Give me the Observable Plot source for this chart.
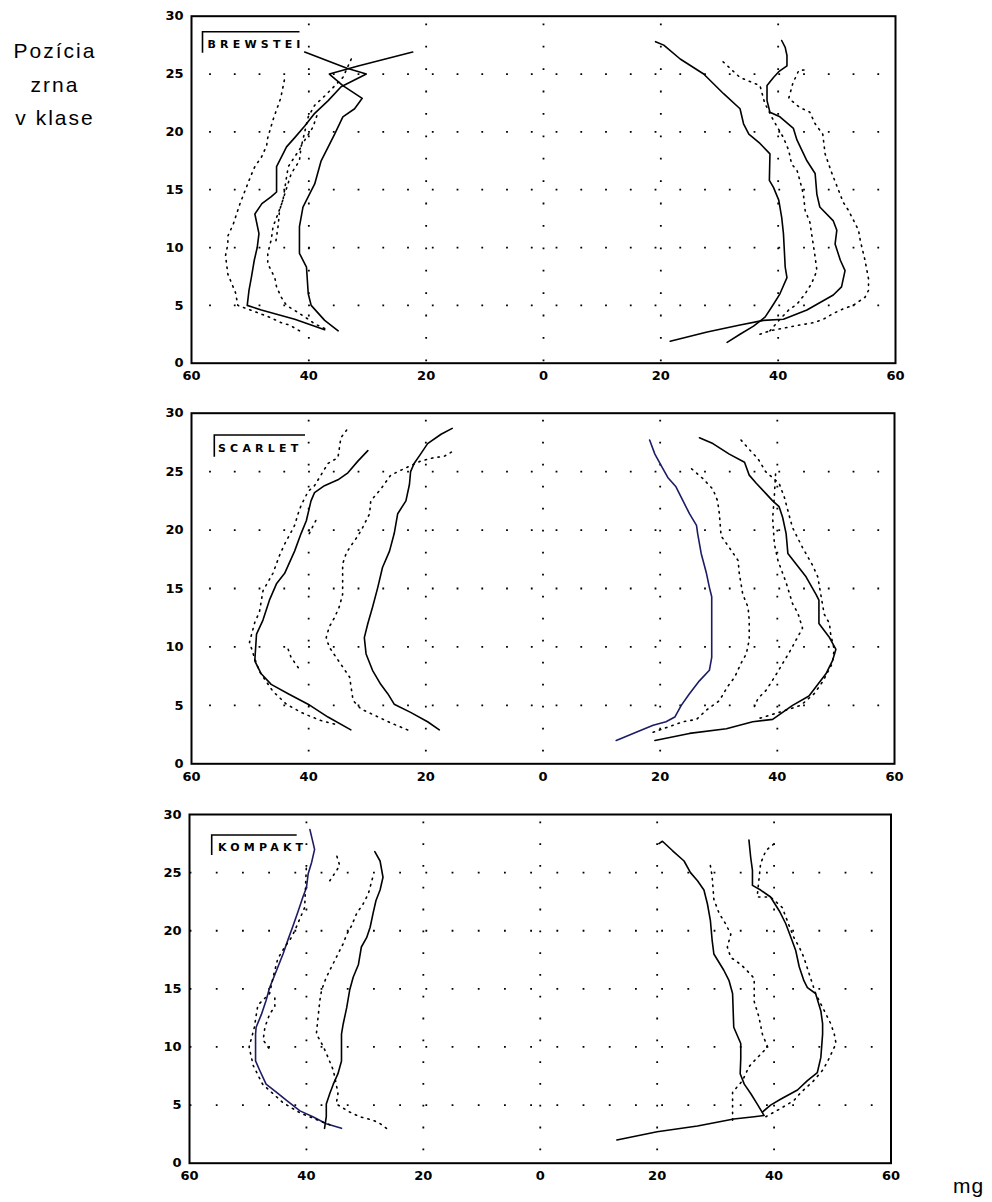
<!DOCTYPE html>
<html><head><meta charset="utf-8">
<script src="https://cdn.jsdelivr.net/npm/d3@7"></script>
<script src="https://cdn.jsdelivr.net/npm/@observablehq/plot@0.6"></script>
<style>
body{margin:0;background:#fff;}
#wrap{position:relative;width:992px;height:1202px;background:#fff;overflow:hidden;}
.panel{position:absolute;left:0;}
.panel text{font-family:'DejaVu Sans',sans-serif;font-size:13px;font-weight:bold;}
#overlay{position:absolute;left:0;top:0;pointer-events:none;}
</style></head>
<body><div id="wrap"></div>
<script>
// ---------- tick labels / categories ----------
const xTicks = [-60, -40, -20, 0, 20, 40, 60];
const yTicks = [0, 5, 10, 15, 20, 25, 30];
const gridX = [-40, -20, 0, 20, 40];
const gridY = [5, 10, 15, 20, 25];
const varieties = ["BREWSTEI", "SCARLET", "KOMPAKT"];
const titleLines = ["Pozícia", "zrna", "v klase"];
const unitLabel = "mg";

// ---------- BREWSTER ----------
const brewsterLeftSolidOuter = [[-37.3,2.9],[-42.4,3.8],[-48.1,4.6],[-50.5,5.0],[-50.2,6.3],[-49.8,7.4],[-49.3,8.9],[-48.8,10.0],[-48.5,11.2],[-49.2,12.9],[-48.0,13.8],[-46.4,14.4],[-45.5,14.8],[-45.5,17.0],[-43.8,18.7],[-42.4,19.5],[-40.7,20.5],[-39.0,21.6],[-36.7,22.7],[-34.5,23.9],[-30.2,25.0],[-33.5,25.5],[-40.7,26.9]];
const brewsterLeftSolidInner = [[-35.0,2.8],[-37.3,3.7],[-39.6,5.0],[-40.1,6.0],[-40.4,8.3],[-41.6,9.5],[-41.6,11.8],[-41.0,13.5],[-40.1,14.4],[-39.0,15.5],[-37.9,17.5],[-35.6,19.8],[-34.2,21.3],[-32.2,22.0],[-30.9,22.9],[-34.2,24.0],[-36.5,25.0],[-31.6,25.7],[-22.3,26.9]];
const brewsterLeftDotOuter = [[-41.6,2.8],[-43.3,3.3],[-44.7,3.5],[-46.8,4.0],[-52.1,5.0],[-52.5,6.1],[-53.8,7.7],[-54.2,9.3],[-53.8,10.3],[-53.8,11.0],[-52.9,12.0],[-51.8,13.7],[-50.5,15.4],[-49.8,16.3],[-49.2,17.0],[-48.1,17.8],[-47.2,18.8],[-47.0,19.5],[-46.0,21.2],[-44.8,22.9],[-44.4,23.9],[-44.0,24.9]];
const brewsterLeftDotInner = [[-37.3,3.0],[-39.0,3.4],[-40.1,3.8],[-41.9,4.4],[-43.8,5.0],[-44.7,5.7],[-45.5,6.6],[-45.8,7.4],[-47.0,8.6],[-47.0,9.5],[-46.4,10.7],[-46.1,11.8],[-45.2,13.0],[-44.4,14.1],[-43.8,16.1],[-43.5,17.0],[-41.3,18.7],[-40.1,21.3],[-39.0,22.3],[-37.3,23.1],[-34.2,24.7],[-32.5,26.6]];
const brewsterLeftDotMid = [[-45.6,10.6],[-45.2,12.0],[-45.0,13.2],[-43.0,16.4],[-41.6,17.5],[-41.3,18.8],[-39.3,20.4],[-38.5,21.6]];
const brewsterRightSolidInner = [[19.1,27.8],[20.5,27.5],[23.3,26.3],[27.3,25.0],[30.7,23.3],[33.5,22.0],[34.1,20.7],[35.0,19.8],[36.9,19.0],[38.6,18.1],[38.5,15.8],[39.2,15.2],[40.1,14.1],[40.6,12.6],[40.9,11.2],[41.2,8.3],[41.5,7.4],[40.3,6.0],[39.2,5.1],[37.8,4.0],[35.8,3.2],[33.5,2.5],[31.3,1.8]];
const brewsterRightSolidOuter = [[21.6,1.9],[27.9,2.7],[33.5,3.3],[37.5,3.7],[40.9,3.8],[44.9,4.6],[49.4,5.9],[50.8,6.6],[51.4,8.0],[50.6,8.9],[49.7,10.3],[50.0,11.5],[49.4,12.3],[47.1,13.5],[46.6,14.6],[46.3,16.4],[44.9,17.5],[43.2,19.3],[42.6,20.3],[40.3,21.3],[38.6,21.7],[38.1,22.7],[38.1,24.0],[39.2,24.7],[40.1,25.2],[41.5,25.7],[41.5,26.6],[41.2,27.3],[40.6,27.9]];
const brewsterRightDotInner = [[38.6,2.8],[40.3,3.8],[41.8,4.6],[43.2,5.1],[44.6,6.0],[45.7,6.9],[46.6,8.0],[46.3,9.2],[45.7,11.2],[45.4,12.2],[44.6,13.2],[44.3,14.6],[43.7,15.8],[43.2,16.7],[42.3,17.2],[41.8,18.4],[40.9,19.5],[39.2,21.0],[37.7,22.5],[36.9,24.0],[33.5,24.7],[30.1,26.3]];
const brewsterRightDotOuter = [[36.9,2.5],[38.6,2.8],[43.7,3.3],[46.0,3.5],[47.7,3.8],[49.4,4.3],[51.1,4.7],[52.8,5.0],[54.8,5.7],[55.4,6.3],[55.4,7.3],[54.8,8.9],[54.0,10.6],[53.7,11.5],[52.0,13.2],[51.1,13.9],[49.1,16.5],[48.0,18.1],[47.6,19.8],[46.3,20.7],[45.4,21.7],[43.7,22.1],[41.8,22.9],[42.5,24.2],[43.5,25.3],[45.2,25.4]];

// ---------- SCARLET ----------
const scarletLeftSolidOuter = [[-32.8,2.9],[-36.7,4.0],[-40.1,5.1],[-43.5,6.0],[-46.4,6.8],[-48.1,7.7],[-49.2,8.8],[-48.9,11.1],[-47.8,12.3],[-46.7,14.0],[-45.5,15.4],[-44.1,16.3],[-42.4,18.2],[-41.3,19.7],[-40.4,20.8],[-39.6,22.5],[-39.0,23.2],[-37.3,23.8],[-35.0,24.3],[-33.3,24.9],[-31.6,25.9],[-29.9,26.8]];
const scarletLeftSolidInner = [[-17.7,2.9],[-19.7,3.6],[-22.6,4.4],[-25.4,5.1],[-26.5,6.0],[-27.7,6.8],[-29.1,8.0],[-30.2,9.4],[-30.5,10.8],[-29.9,12.0],[-29.1,13.4],[-28.2,15.1],[-27.4,16.8],[-26.2,18.2],[-25.4,19.7],[-24.8,21.4],[-23.4,22.5],[-22.8,23.9],[-22.6,25.0],[-22.0,25.7],[-20.9,26.5],[-19.7,27.4],[-17.4,28.2],[-15.5,28.7]];
const scarletLeftDotInner = [[-23.1,2.9],[-26.0,3.5],[-29.4,4.3],[-31.1,4.7],[-32.2,5.3],[-32.5,5.7],[-32.8,6.7],[-33.0,7.4],[-34.2,8.3],[-35.3,9.1],[-36.5,10.0],[-37.0,10.8],[-36.5,11.7],[-35.6,12.5],[-34.8,13.4],[-34.2,14.5],[-34.2,16.3],[-34.2,17.1],[-33.6,18.0],[-33.0,18.5],[-31.6,19.5],[-30.8,20.2],[-29.6,21.4],[-29.4,22.5],[-27.7,23.5],[-26.0,24.7],[-23.5,25.3],[-20.9,25.9],[-18.6,26.2],[-16.9,26.3],[-15.2,26.8]];
const scarletLeftDotOuter = [[-35.6,3.4],[-37.9,3.7],[-39.9,4.1],[-41.3,4.4],[-43.8,5.1],[-46.1,6.2],[-48.4,7.9],[-49.2,9.0],[-50.1,10.4],[-49.2,12.1],[-48.4,13.0],[-47.8,14.8],[-46.1,16.3],[-45.0,17.8],[-44.1,18.8],[-42.4,20.4],[-41.8,21.4],[-41.3,22.1],[-40.1,23.3],[-39.0,23.8],[-36.7,25.7],[-35.0,26.2],[-34.5,27.9],[-33.3,28.7]];
const scarletLeftDotShortA = [[-43.5,9.8],[-43.0,9.1],[-41.6,8.1]];
const scarletLeftDotShortB = [[-39.9,19.7],[-38.4,21.2]];
const scarletRightNavy = [[12.5,2.0],[15.9,2.7],[18.8,3.3],[21.0,3.6],[22.5,4.0],[23.6,5.0],[25.0,6.0],[26.7,7.1],[28.4,8.0],[28.8,9.1],[28.8,11.1],[28.8,14.3],[28.4,15.1],[27.9,16.3],[27.0,18.0],[26.4,19.7],[26.2,20.4],[25.0,21.4],[23.9,22.5],[22.7,23.7],[21.3,24.5],[20.2,25.5],[19.1,26.5],[18.2,27.7]];
const scarletRightSolidOuter = [[19.1,2.0],[25.0,2.6],[31.3,3.0],[35.8,3.6],[39.2,3.8],[40.9,4.4],[42.6,5.0],[45.4,5.8],[46.6,6.6],[48.3,7.7],[49.4,8.8],[50.0,9.8],[48.9,10.8],[47.1,12.0],[47.1,14.0],[46.6,14.5],[44.9,16.0],[43.2,17.1],[41.8,18.0],[41.5,19.7],[40.9,21.1],[40.3,22.0],[39.2,22.5],[38.1,23.1],[36.4,24.0],[35.2,24.7],[34.4,25.8],[31.8,26.5],[29.0,27.4],[26.7,27.9]];
const scarletRightDotInner = [[18.8,2.7],[22.2,3.3],[23.9,3.6],[26.2,3.8],[27.9,4.6],[30.1,5.4],[31.5,6.6],[32.7,7.4],[33.8,8.6],[34.7,9.4],[35.2,10.6],[35.2,12.3],[35.0,13.4],[34.1,14.5],[33.5,16.3],[33.3,17.4],[31.8,18.5],[30.4,19.5],[30.1,21.4],[29.8,22.5],[29.0,23.5],[27.3,24.4],[25.0,25.4]];
const scarletRightDotOuter = [[33.8,27.7],[35.2,26.9],[36.7,26.1],[38.0,25.0],[40.3,24.0],[41.2,22.8],[42.1,21.1],[42.6,20.2],[44.3,18.5],[46.0,17.0],[46.9,16.0],[48.0,12.8],[48.9,12.0],[49.1,11.1],[49.7,9.8],[49.4,8.6],[47.7,7.0],[46.3,6.0],[44.0,5.0],[40.3,4.4],[37.0,3.9]];
const scarletRightDotMid = [[39.7,24.8],[39.5,23.0],[39.2,21.0],[39.5,18.8],[40.1,17.4],[41.5,15.5],[42.6,13.7],[43.5,12.9],[44.3,11.6],[42.0,9.5],[39.5,7.4],[38.1,6.3],[36.7,5.6],[36.1,4.9]];

// ---------- KOMPAKT ----------
const kompaktLeftNavy = [[-34.0,3.0],[-36.6,3.4],[-38.9,4.0],[-41.1,4.5],[-43.4,5.4],[-45.1,6.1],[-46.9,6.8],[-48.0,8.0],[-48.7,8.8],[-48.7,11.1],[-48.6,11.7],[-47.7,12.8],[-46.9,14.0],[-46.3,15.1],[-45.1,16.6],[-44.0,18.0],[-43.1,19.3],[-42.3,20.4],[-41.4,21.7],[-40.6,22.9],[-40.0,23.7],[-39.7,24.9],[-39.1,25.9],[-38.6,27.0],[-39.4,28.7]];
const kompaktLeftSolidInner = [[-36.9,3.0],[-36.6,4.0],[-36.6,5.1],[-36.0,6.0],[-35.4,6.8],[-34.6,7.7],[-34.0,8.8],[-34.0,11.1],[-33.7,12.0],[-33.1,13.4],[-32.6,14.9],[-32.0,16.0],[-31.1,17.1],[-30.6,18.6],[-29.7,19.4],[-29.1,20.3],[-28.6,21.5],[-28.1,22.6],[-27.4,23.5],[-26.9,24.6],[-27.4,26.0],[-28.3,26.8]];
const kompaktLeftDotInner = [[-26.3,3.0],[-27.4,3.4],[-28.6,3.7],[-30.9,4.0],[-32.6,4.4],[-34.9,5.1],[-34.6,6.0],[-34.9,6.8],[-35.4,8.0],[-36.3,9.1],[-36.9,9.8],[-37.7,10.6],[-38.3,11.1],[-38.0,12.6],[-37.7,14.0],[-37.4,14.9],[-36.6,16.0],[-35.7,16.9],[-34.9,17.7],[-34.3,18.3],[-33.7,18.9],[-33.1,19.7],[-32.3,20.4],[-31.4,21.5],[-30.3,22.3],[-29.4,23.2],[-28.6,24.7]];
const kompaktLeftDotOuter = [[-36.0,3.3],[-38.5,3.8],[-41.0,4.3],[-44.0,5.2],[-47.5,6.8],[-49.1,8.4],[-49.8,10.0],[-48.9,11.7],[-48.6,12.7],[-48.3,13.6],[-46.3,14.6],[-45.7,16.0],[-44.9,17.6],[-43.7,18.6],[-42.6,19.4],[-42.0,20.0],[-40.3,22.0],[-40.0,25.6]];
const kompaktLeftDotShortA = [[-45.4,14.2],[-45.4,13.5],[-46.3,12.8],[-46.6,12.4],[-47.1,11.7],[-47.4,10.6],[-46.3,9.8]];
const kompaktLeftDotShortB = [[-36.0,24.3],[-34.3,25.6],[-34.9,26.6]];
const kompaktRightSolidInner = [[13.1,2.0],[20.0,2.7],[26.9,3.2],[33.1,3.8],[36.6,4.0],[38.3,4.1],[37.1,5.1],[36.0,6.0],[34.9,6.8],[34.2,7.7],[34.3,9.0],[34.3,10.3],[33.1,11.7],[32.9,14.6],[32.3,15.7],[31.4,16.6],[29.7,18.0],[29.4,19.2],[29.1,20.9],[28.6,22.3],[28.0,23.5],[26.9,24.3],[25.7,25.0],[24.6,26.0],[22.6,26.9],[20.9,27.7],[20.3,27.5]];
const kompaktRightSolidOuter = [[38.0,4.4],[39.4,5.0],[41.1,5.5],[44.0,6.3],[45.7,7.1],[47.4,7.8],[48.0,9.1],[48.3,11.1],[48.3,12.0],[48.0,13.1],[47.1,14.6],[45.7,15.1],[45.1,15.7],[44.3,16.9],[43.7,18.3],[42.9,19.4],[42.0,20.6],[40.9,21.7],[39.4,22.9],[37.7,23.5],[36.3,23.9],[36.3,25.2],[36.0,26.3],[35.7,27.8]];
const kompaktRightDotInner = [[32.9,3.7],[32.9,5.0],[32.9,6.1],[34.6,7.1],[35.7,8.3],[36.6,8.8],[38.9,10.0],[38.0,11.1],[37.4,12.6],[36.6,13.9],[36.6,14.6],[36.6,15.9],[35.7,16.4],[34.3,17.1],[32.6,17.7],[32.0,18.6],[32.6,19.7],[31.7,20.6],[30.6,21.5],[29.7,22.7],[29.4,24.7],[29.1,25.6]];
const kompaktRightDotOuter = [[38.6,4.0],[41.1,4.7],[43.4,5.4],[44.6,6.1],[46.6,7.0],[48.3,8.0],[49.1,8.7],[50.6,10.3],[50.3,11.1],[49.7,12.0],[48.9,12.8],[47.1,14.6],[46.0,16.3],[45.1,17.7],[44.3,18.6],[43.4,19.4],[42.6,20.4],[41.4,22.0],[39.4,22.9],[37.1,22.9],[37.7,25.8],[38.6,26.9],[40.3,27.6]];

// ---------- styles ----------
const INK = "#000";
const NAVY = "#1c1c64";
const styleOf = {
  solid: {stroke: INK, strokeWidth: 1.6},
  navy: {stroke: NAVY, strokeWidth: 1.6},
  dot: {stroke: INK, strokeWidth: 1.6, strokeDasharray: "1.4,5.2"}
};

const panels = [
  {label: varieties[0], top: 0, height: 392, mt: 15.7, mb: 29.3, ml: 191, mr: 97, colGap: 22.4, colStart: 8.6, rowGap: 24.75, rowStart: 19,
   box: {x: 202.5, y: 31.7, w: 97, h: 21, tx: 207.5, ty: 48},
   series: [[brewsterLeftSolidOuter,"solid"],[brewsterLeftSolidInner,"solid"],[brewsterLeftDotOuter,"dot"],[brewsterLeftDotInner,"dot"],[brewsterLeftDotMid,"dot"],
            [brewsterRightSolidInner,"solid"],[brewsterRightSolidOuter,"solid"],[brewsterRightDotInner,"dot"],[brewsterRightDotOuter,"dot"]]},
  {label: varieties[1], top: 395, height: 397, mt: 17.7, mb: 28.7, ml: 191, mr: 98, colGap: 22, colStart: 8, rowGap: 24.75, rowStart: 19,
   box: {x: 214.3, y: 435, w: 90.7, h: 21.7, tx: 218, ty: 452},
   series: [[scarletLeftSolidOuter,"solid"],[scarletLeftSolidInner,"solid"],[scarletLeftDotInner,"dot"],[scarletLeftDotOuter,"dot"],[scarletLeftDotShortA,"dot"],[scarletLeftDotShortB,"dot"],
            [scarletRightNavy,"navy"],[scarletRightSolidOuter,"solid"],[scarletRightDotInner,"dot"],[scarletRightDotOuter,"dot"],[scarletRightDotMid,"dot"]]},
  {label: varieties[2], top: 795, height: 400, mt: 19, mb: 32.3, ml: 189, mr: 101.5, colGap: 21.8, colStart: 8.3, rowGap: 26.2, rowStart: 27.7,
   box: {x: 211.7, y: 835, w: 85, h: 20, tx: 218, ty: 851},
   series: [[kompaktLeftNavy,"navy"],[kompaktLeftSolidInner,"solid"],[kompaktLeftDotInner,"dot"],[kompaktLeftDotOuter,"dot"],[kompaktLeftDotShortA,"dot"],[kompaktLeftDotShortB,"dot"],
            [kompaktRightSolidInner,"solid"],[kompaktRightSolidOuter,"solid"],[kompaktRightDotInner,"dot"],[kompaktRightDotOuter,"dot"]]}
];

const wrap = document.getElementById("wrap");

for (const p of panels) {
  const chart = Plot.plot({
    width: 992, height: p.height,
    marginTop: p.mt, marginBottom: p.mb, marginLeft: p.ml, marginRight: p.mr,
    style: {fontFamily: "'DejaVu Sans', sans-serif", fontSize: "13px", fontWeight: "bold", color: "#000", background: "#fff", overflow: "visible"},
    x: {domain: [-60, 60], ticks: xTicks, tickFormat: d => String(Math.abs(d)), tickSize: 0, tickPadding: 8, label: null},
    y: {domain: [0, 30], ticks: yTicks, tickSize: 0, tickPadding: 8, label: null},
    marks: [
      Plot.ruleX(gridX, {stroke: INK, strokeWidth: 1.8, strokeDasharray: `1.8,${p.colGap - 1.8}`, strokeDashoffset: -(p.colStart - 0.9)}),
      Plot.ruleY(gridY, {stroke: INK, strokeWidth: 1.8, strokeDasharray: `1.8,${p.rowGap - 1.8}`, strokeDashoffset: -(p.rowStart - 0.9)}),
      ...p.series.map(([data, kind]) => Plot.line(data, {x: d => d[0], y: d => d[1], curve: "linear", ...styleOf[kind]})),
      Plot.frame({stroke: INK, strokeWidth: 2})
    ]
  });
  chart.classList.add("panel");
  chart.style.top = p.top + "px";
  wrap.appendChild(chart);
}

// overlay: title, unit, variety labels
const ns = "http://www.w3.org/2000/svg";
const ov = document.createElementNS(ns, "svg");
ov.setAttribute("id", "overlay");
ov.setAttribute("width", 992); ov.setAttribute("height", 1202);
const mk = (tag, attrs, text) => {
  const el = document.createElementNS(ns, tag);
  for (const k in attrs) el.setAttribute(k, attrs[k]);
  if (text != null) el.textContent = text;
  ov.appendChild(el); return el;
};
titleLines.forEach((t, i) => mk("text", {x: 55, y: 58 + i * 33.5, "text-anchor": "middle", "font-family": "'Liberation Sans', Arial, sans-serif", "font-size": 21, "letter-spacing": 2, fill: "#000"}, t));
mk("text", {x: 953, y: 1193, "font-family": "'Liberation Sans', Arial, sans-serif", "font-size": 21, "letter-spacing": 1, fill: "#000"}, unitLabel);
for (const p of panels) {
  const b = p.box;
  mk("path", {d: `M${b.x},${b.y + b.h}V${b.y}H${b.x + b.w}`, fill: "none", stroke: "#000", "stroke-width": 1.6});
  mk("text", {x: b.tx, y: b.ty, "font-family": "'DejaVu Sans', sans-serif", "font-size": 11, "font-weight": "bold", "letter-spacing": 4.2, fill: "#000"}, p.label);
}
wrap.appendChild(ov);
</script>
</body></html>
